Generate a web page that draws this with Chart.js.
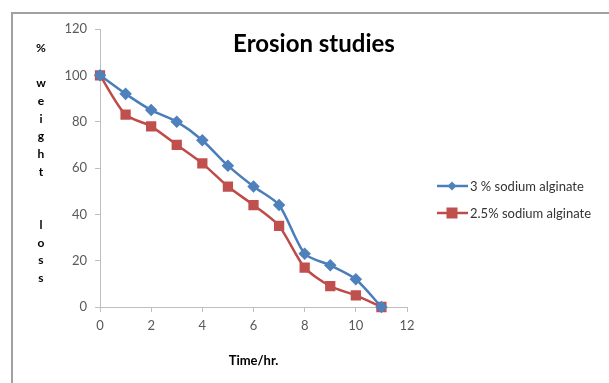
<!DOCTYPE html>
<html>
<head>
<meta charset="utf-8">
<script src="https://cdn.jsdelivr.net/npm/chart.js@4/dist/chart.umd.min.js"></script>
<style>
  html, body { margin: 0; padding: 0; background: #fff; }
  #wrap { position: relative; width: 609px; height: 383px; overflow: hidden; }
  #frame { position: absolute; left: 11px; top: 12px; width: 700px; height: 500px;
           border-left: 2px solid #a0a0a0; border-top: 2px solid #a0a0a0; }
  canvas { position: absolute; left: 0; top: 0; }
</style>
</head>
<body>
<div id="wrap">
  <div id="frame"></div>
  <canvas id="chart" width="609" height="383"></canvas>
</div>
<script>
// Données
const hours = [0, 1, 2, 3, 4, 5, 6, 7, 8, 9, 10, 11];
const alginate3 = [100, 92, 85, 80, 72, 61, 52, 44, 23, 18, 12, 0];
const alginate25 = [100, 83, 78, 70, 62, 52, 44, 35, 17, 9, 5, 0];
const seriesLabels = ['3 % sodium alginate', '2.5% sodium alginate'];
const chartTitle = 'Erosion studies';
const xTitle = 'Time/hr.';
const yTitleLines = ['%', '', 'w', 'e', 'i', 'g', 'h', 't', '', '', 'l', 'o', 's', 's'];

const FONT = 'Lato, "Open Sans", sans-serif';

// Titre, titre vertical et légende dessinés à la main
const extras = {
  id: 'extras',
  afterDraw(chart) {
    const ctx = chart.ctx;
    ctx.save();
    // titre
    ctx.fillStyle = '#000';
    ctx.font = 'bold 24px ' + FONT;
    ctx.textAlign = 'center';
    ctx.textBaseline = 'middle';
    ctx.fillText(chartTitle, 314, 44);

    // titre de l'axe y, lettre par lettre
    ctx.font = 'bold 12px ' + FONT;
    yTitleLines.forEach((ch, i) => {
      if (ch) ctx.fillText(ch, 41, 48 + i * 17.7);
    });

    // légende
    ctx.font = '13px ' + FONT;
    ctx.textAlign = 'left';
    chart.data.datasets.forEach((ds, i) => {
      const y = 186 + i * 27;
      ctx.strokeStyle = ds.borderColor;
      ctx.lineWidth = 2.5;
      ctx.beginPath();
      ctx.moveTo(437, y);
      ctx.lineTo(468, y);
      ctx.stroke();
      ctx.fillStyle = ds.pointBackgroundColor;
      const r = ds.pointRadius;
      if (ds.pointStyle === 'rect') {
        ctx.fillRect(452 - r, y - r, r * 2, r * 2);
      } else {
        ctx.beginPath();
        ctx.moveTo(452, y - r);
        ctx.lineTo(452 + r, y);
        ctx.lineTo(452, y + r);
        ctx.lineTo(452 - r, y);
        ctx.closePath();
        ctx.fill();
      }
      ctx.fillStyle = '#333';
      ctx.fillText(ds.label, 470, y + 1);
    });
    ctx.restore();
  }
};

new Chart(document.getElementById('chart'), {
  type: 'line',
  data: {
    labels: hours,
    datasets: [
      {
        label: seriesLabels[0],
        data: hours.map((h, i) => ({ x: h, y: alginate3[i] })),
        borderColor: '#4a7ebb',
        backgroundColor: '#4f81bd',
        pointBackgroundColor: '#4f81bd',
        pointBorderColor: '#4f81bd',
        pointStyle: 'rectRot',
        pointRadius: 4.5,
        borderWidth: 2.5,
        tension: 0.25,
        clip: false,
        fill: false
      },
      {
        label: seriesLabels[1],
        data: hours.map((h, i) => ({ x: h, y: alginate25[i] })),
        borderColor: '#be4b48',
        backgroundColor: '#c0504d',
        pointBackgroundColor: '#c0504d',
        pointBorderColor: '#c0504d',
        pointStyle: 'rect',
        pointRadius: 5.5,
        borderWidth: 2.5,
        tension: 0.25,
        clip: false,
        fill: false
      }
    ]
  },
  options: {
    responsive: false,
    animation: false,
    layout: { padding: { left: 50, top: 29, right: 202, bottom: 10 } },
    plugins: {
      legend: { display: false },
      title: { display: false },
      tooltip: { enabled: false }
    },
    scales: {
      x: {
        type: 'linear',
        min: 0,
        max: 12,
        ticks: { stepSize: 2, color: '#595959', font: { family: FONT, size: 13 }, padding: 6 },
        grid: { drawOnChartArea: false, drawTicks: true, tickLength: 5, color: '#bfbfbf' },
        border: { color: '#bfbfbf', width: 1 },
        title: { display: true, text: xTitle, color: '#000', font: { family: FONT, size: 13, weight: 'bold' }, padding: { top: 10 } },
        afterFit: s => { s.height = 383 - 10 - 307; }
      },
      y: {
        min: 0,
        max: 120,
        ticks: { stepSize: 20, color: '#595959', font: { family: FONT, size: 13 }, padding: 8 },
        grid: { drawOnChartArea: false, drawTicks: true, tickLength: 5, color: '#bfbfbf' },
        border: { color: '#bfbfbf', width: 1 },
        afterFit: s => { s.width = 50; }
      }
    }
  },
  plugins: [extras]
});
</script>
</body>
</html>
